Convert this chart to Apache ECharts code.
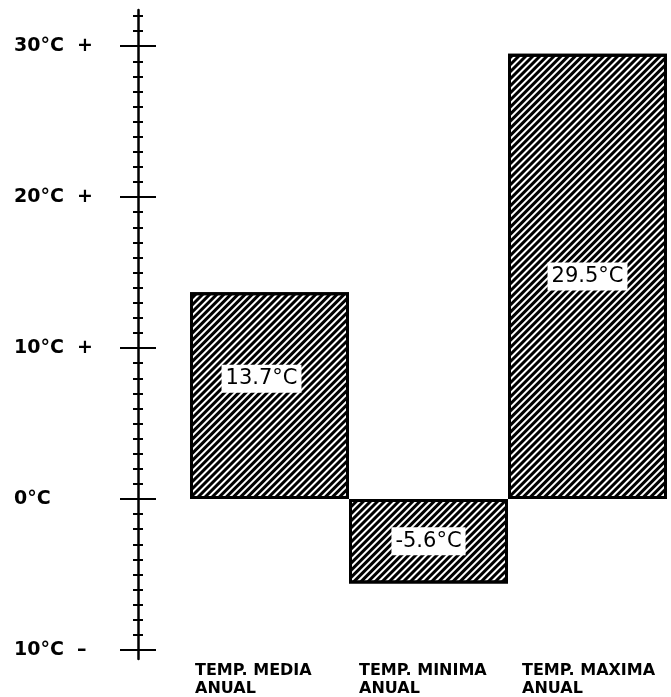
<!DOCTYPE html>
<html>
<head>
<meta charset="utf-8">
<script src="https://cdn.jsdelivr.net/npm/echarts@6/dist/echarts.min.js"></script>
<style>
  html, body { margin: 0; padding: 0; background: #fff; }
  #chart { width: 671px; height: 697px; }
</style>
</head>
<body>
<div id="chart"></div>
<script>
// data
const categories = ['TEMP. MEDIA\nANUAL', 'TEMP. MINIMA\nANUAL', 'TEMP. MAXIMA\nANUAL'];
const temps = [13.7, -5.6, 29.5];
const majorTicks = [-10, 0, 10, 20, 30];
const majorLabels = ['10°C –', '0°C', '10°C +', '20°C +', '30°C +'];
const minorTicks = [-9, -8, -7, -6, -5, -4, -3, -2, -1, 1, 2, 3, 4, 5, 6, 7, 8, 9,
  11, 12, 13, 14, 15, 16, 17, 18, 19, 21, 22, 23, 24, 25, 26, 27, 28, 29, 31, 32];

const chart = echarts.init(document.getElementById('chart'));

// one y axis per tick set: major/minor, left side/right side of the line
function yAx (ticks, len, inside, withLine, withLabel) {
  return {
    type: 'value',
    position: 'left',
    offset: 52,
    min: -10.6,
    max: 32.4,
    splitLine: { show: false },
    axisLine: { show: withLine, lineStyle: { color: '#000', width: 2.5 } },
    axisTick: {
      show: true,
      inside: inside,
      length: len,
      customValues: ticks,
      lineStyle: { color: '#000', width: 2 }
    },
    axisLabel: {
      show: withLabel,
      customValues: majorTicks,
      align: 'left',
      margin: 124,
      color: '#000',
      fontFamily: 'DejaVu Sans',
      fontWeight: 'bold',
      fontSize: 19,
      formatter: function (v) {
        const i = majorTicks.findIndex(t => Math.abs(t - v) < 1e-6);
        return i >= 0 ? majorLabels[i].replace(' ', '  ') : '';
      }
    }
  };
}

const catText = {
  color: '#000',
  fontFamily: 'DejaVu Sans',
  fontWeight: 'bold',
  fontSize: 16,
  lineHeight: 18,
  align: 'left'
};

const option = {
  backgroundColor: '#fff',
  animation: false,
  grid: { left: 190, right: 4, top: 10, bottom: 34 },
  xAxis: {
    type: 'category',
    data: categories,
    position: 'bottom',
    axisLine: { show: false, onZero: false },
    axisTick: { show: false },
    axisLabel: {
      interval: 0,
      margin: 3,
      align: 'center',
      formatter: function (v, idx) {
        return v.split('\n').map(s => '{a' + idx + '|' + s + '}').join('\n');
      },
      rich: {
        a0: Object.assign({ width: 149 }, catText),
        a1: Object.assign({ width: 139 }, catText),
        a2: Object.assign({ width: 131 }, catText)
      }
    }
  },
  yAxis: [
    yAx(majorTicks, 18, false, true, true),
    yAx(majorTicks, 18, true, false, false),
    yAx(minorTicks, 5, false, false, false),
    yAx(minorTicks, 5, true, false, false)
  ],
  series: [{
    type: 'bar',
    yAxisIndex: 0,
    barWidth: '100%',
    barCategoryGap: 0,
    data: temps.map((v, i) => ({
      value: v,
      label: i === 0 ? { offset: [-8, -17] } : {}
    })),
    itemStyle: {
      color: '#fff',
      borderColor: '#000',
      borderWidth: 3,
      decal: {
        symbol: 'rect',
        symbolSize: 1,
        color: '#000',
        dashArrayX: [1, 0],
        dashArrayY: [2.5, 1.5],
        rotation: -Math.PI / 4
      }
    },
    label: {
      show: true,
      position: 'inside',
      formatter: '{c}°C',
      color: '#000',
      backgroundColor: '#fff',
      padding: [4, 4, 3, 4],
      fontFamily: 'DejaVu Sans',
      fontSize: 21
    }
  }]
};

chart.setOption(option);
</script>
</body>
</html>
